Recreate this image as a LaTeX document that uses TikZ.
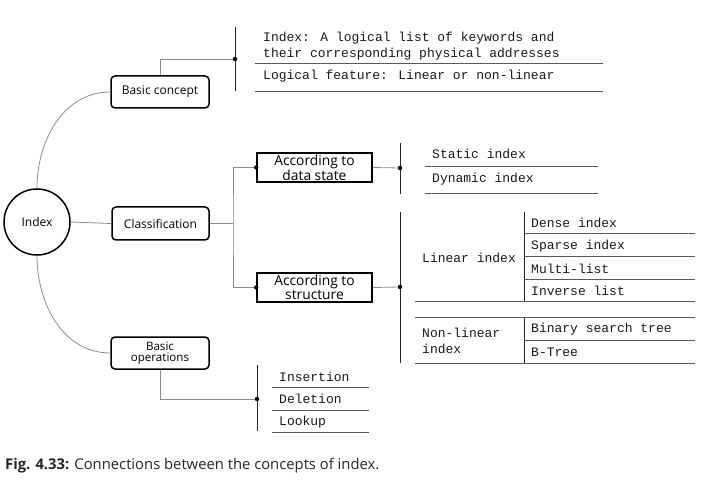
\documentclass[tikz,border=0pt]{standalone}
\usepackage{fontspec}
\setmainfont{Open Sans}
\newfontfamily\monof{Liberation Mono}
\newfontfamily\capf{Open Sans}
\begin{document}
\begin{tikzpicture}[x=1pt,y=1pt,
  rbox/.style={draw=black, line width=1.5pt, rounded corners=4pt, minimum width=98pt, minimum height=32pt, inner sep=1pt, align=center, font=\fontsize{12}{13}\selectfont},
  sbox/.style={draw=black, line width=1.5pt, minimum width=115pt, minimum height=29pt, inner sep=0pt, align=center, font=\fontsize{13.8}{12}\selectfont},
  circ/.style={draw=black, line width=1.5pt, circle, minimum size=66pt, inner sep=0pt, font=\fontsize{12}{13}\selectfont},
  conn/.style={draw=black!45, line width=0.8pt},
  bar/.style={draw=black!85, line width=0.9pt},
  rule/.style={draw=black!65, line width=1pt},
  dotn/.style={circle, fill=black, inner sep=0pt, minimum size=4.5pt},
  mt/.style={anchor=west, inner sep=0pt, align=left, text=black!90, font=\monof\fontsize{13}{16}\selectfont},
]
\useasboundingbox (0,0) rectangle (724,-492);

% main nodes
\node[circ] (idx) at (37,-222) {Index};
\node[rbox] (bc) at (160,-92) {Basic concept};
\node[rbox, minimum width=97pt, minimum height=33pt] (cl) at (160.5,-223.5) {Classification};
\node[rbox, font=\fontsize{11.6}{11.5}\selectfont] (bo) at (160,-353) {Basic\\operations};
\node[sbox] (ds) at (314.5,-167.5) {According to\\data state};
\node[sbox] (st) at (314.5,-287.5) {According to\\structure};

% curves and links from Index
\draw[conn] (idx.north) to[out=90,in=180] (bc.west);
\draw[conn] (idx.south) to[out=-90,in=180] (bo.west);
\draw[conn] (idx.east) -- (cl.west);

% classification branches
\coordinate (j) at (233,-223.5);
\draw[conn] (cl.east) -- (j);
\draw[conn] (ds.west) -| (j) |- (st.west);
\node[dotn] (dds) at (ds.west) {};
\node[dotn] (dst) at (st.west) {};

% bracket 1: basic concept
\coordinate (b1t) at (235,-27);
\coordinate (b1b) at (235,-91);
\draw[bar] (b1t) -- (b1b);
\node[dotn] (d1) at (235,-59) {};
\draw[conn] (bc.north) |- (d1);
\node[mt] (t1) at (263,-46) {Index: A logical list of keywords and\\their corresponding physical addresses};
\coordinate (r1a) at (255,-64); \coordinate (r1b) at (603,-64);
\draw[rule] (r1a) -- (r1b);
\node[mt] (t2) at (263,-76) {Logical feature: Linear or non-linear};
\coordinate (r2a) at (255,-92); \coordinate (r2b) at (603,-92);
\draw[rule] (r2a) -- (r2b);

% bracket 2: data state
\coordinate (b2t) at (400,-143);
\coordinate (b2b) at (400,-194);
\draw[bar] (b2t) -- (b2b);
\node[dotn] (d2) at (400,-168) {};
\draw[conn] (ds.east) -- (d2);
\node[mt] (t3) at (432,-154) {Static index};
\coordinate (r3a) at (425,-167); \coordinate (r3b) at (598,-167);
\draw[rule] (r3a) -- (r3b);
\node[mt] (t4) at (432,-179) {Dynamic index};
\coordinate (r4a) at (425,-194); \coordinate (r4b) at (598,-194);
\draw[rule] (r4a) -- (r4b);

% bracket 3: structure
\coordinate (b3t) at (400,-212);
\coordinate (b3b) at (400,-363);
\draw[bar] (b3t) -- (b3b);
\node[dotn] (d3) at (400,-287) {};
\draw[conn] (st.east) -- (d3);
% table
\draw[bar] (524,-212) -- (524,-302);
\draw[bar] (524,-318) -- (524,-363);
\draw[rule] (524,-234) -- (695,-234);
\draw[rule] (524,-257) -- (695,-257);
\draw[rule] (524,-280) -- (695,-280);
\draw[rule] (415,-302) -- (695,-302);
\draw[rule] (415,-318) -- (695,-318);
\draw[rule] (524,-340) -- (695,-340);
\draw[rule] (415,-363) -- (695,-363);
\node[mt] (li) at (422,-258) {Linear index};
\node[mt] (nl) at (422,-341) {Non-linear\\index};
\node[mt] (t5) at (531,-223) {Dense index};
\node[mt] (t6) at (531,-246) {Sparse index};
\node[mt] (t7) at (531,-269) {Multi-list};
\node[mt] (t8) at (531,-291) {Inverse list};
\node[mt] (t9) at (531,-329) {Binary search tree};
\node[mt] (t10) at (531,-352) {B-Tree};

% bracket 4: operations
\coordinate (b4t) at (257,-365);
\coordinate (b4b) at (257,-431);
\draw[bar] (b4t) -- (b4b);
\node[dotn] (d4) at (257,-399) {};
\draw[conn] (bo.south) |- (d4);
\node[mt] (t11) at (279,-377) {Insertion};
\draw[rule] (272,-387) -- (369,-387);
\node[mt] (t12) at (279,-399) {Deletion};
\draw[rule] (272,-410) -- (369,-410);
\node[mt] (t13) at (279,-422) {Lookup};
\draw[rule] (272,-432) -- (369,-432);

% caption
\node[anchor=west, inner sep=0pt, text=black!85, font=\capf\fontsize{14.8}{16}\selectfont] (cap) at (5,-466) {\textbf{Fig. 4.33:} Connections between the concepts of index.};
\end{tikzpicture}
\end{document}
